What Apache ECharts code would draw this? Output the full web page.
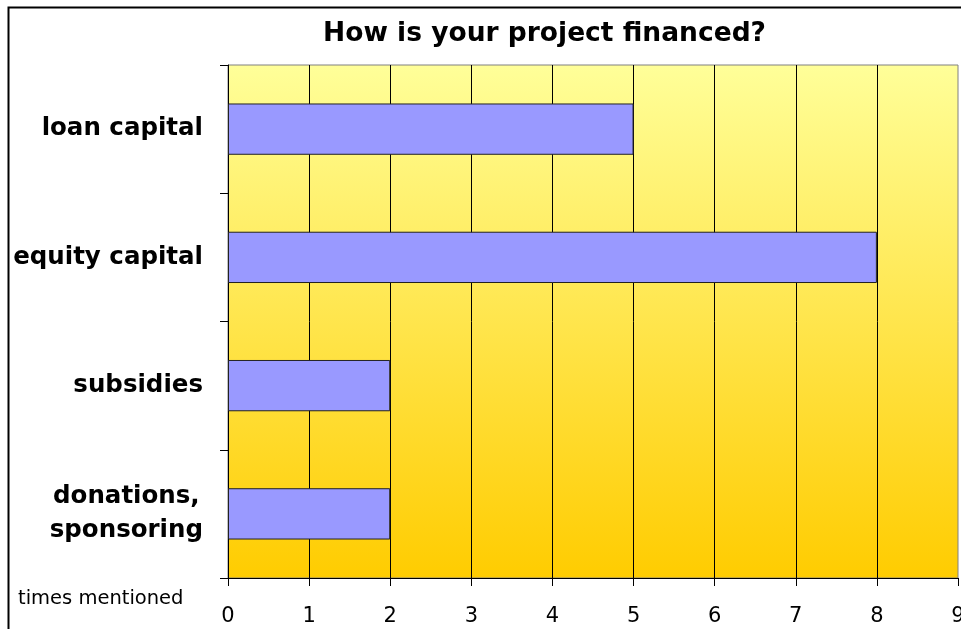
<!DOCTYPE html>
<html>
<head>
<meta charset="utf-8">
<script src="https://cdn.jsdelivr.net/npm/echarts@6/dist/echarts.min.js"></script>
<style>
  html, body { margin: 0; padding: 0; background: #fff; }
  #chart { width: 961px; height: 629px; }
</style>
</head>
<body>
<div id="chart"></div>
<script>
const categories = ['loan capital', 'equity capital', 'subsidies', 'donations,\nsponsoring']
const mentions = [5, 8, 2, 2]
const xTicks = [0, 1, 2, 3, 4, 5, 6, 7, 8, 9]

const FONT = 'DejaVu Sans'

const chart = echarts.init(document.getElementById('chart'))

const option = {
  animation: false,
  backgroundColor: '#fff',
  title: {
    text: 'How is your project financed?',
    left: 318,
    top: 16,
    textStyle: { fontFamily: FONT, fontSize: 26.5, fontWeight: 'bold', color: '#000' }
  },
  grid: {
    left: 228,
    right: 3,
    top: 65,
    bottom: 51,
    outerBoundsMode: 'none',
    containLabel: false,
    show: true,
    borderColor: '#808080',
    borderWidth: 1,
    backgroundColor: new echarts.graphic.LinearGradient(0, 0, 0, 1, [
      { offset: 0, color: '#FFFF99' },
      { offset: 1, color: '#FFCC00' }
    ])
  },
  xAxis: {
    type: 'value',
    min: xTicks[0],
    max: xTicks[xTicks.length - 1],
    interval: 1,
    axisLine: { show: true, lineStyle: { color: '#000', width: 1 } },
    axisTick: { show: true, length: 8, lineStyle: { color: '#000' } },
    axisLabel: { margin: 28, color: '#000', fontFamily: FONT, fontSize: 21 },
    splitLine: { show: true, showMaxLine: false, lineStyle: { color: '#000', width: 1 } }
  },
  yAxis: {
    type: 'category',
    inverse: true,
    data: categories,
    axisLine: { show: true, lineStyle: { color: '#000', width: 1 } },
    axisTick: { show: true, length: 8, lineStyle: { color: '#000' } },
    axisLabel: {
      margin: 25,
      align: 'right',
      formatter: (v) => v.split('\n').map(s => '{b|' + s + '}').join('\n'),
      rich: {
        b: { fontFamily: FONT, fontSize: 24.5, fontWeight: 'bold', color: '#000', align: 'center', lineHeight: 34 }
      }
    },
    splitLine: { show: false }
  },
  series: [{
    type: 'bar',
    data: mentions,
    barWidth: '40%',
    itemStyle: { color: '#9999FF', borderColor: '#222', borderWidth: 1 }
  }],
  graphic: [
    {
      type: 'rect',
      left: 6,
      top: 5,
      shape: { width: 1200, height: 800 },
      style: { fill: 'none', stroke: '#000', lineWidth: 2 },
      silent: true,
      z: 100
    },
    {
      type: 'text',
      left: 18,
      top: 589,
      style: { text: 'times mentioned', fontFamily: FONT, fontSize: 19.5, fill: '#000' }
    }
  ]
}

chart.setOption(option)
</script>
</body>
</html>
